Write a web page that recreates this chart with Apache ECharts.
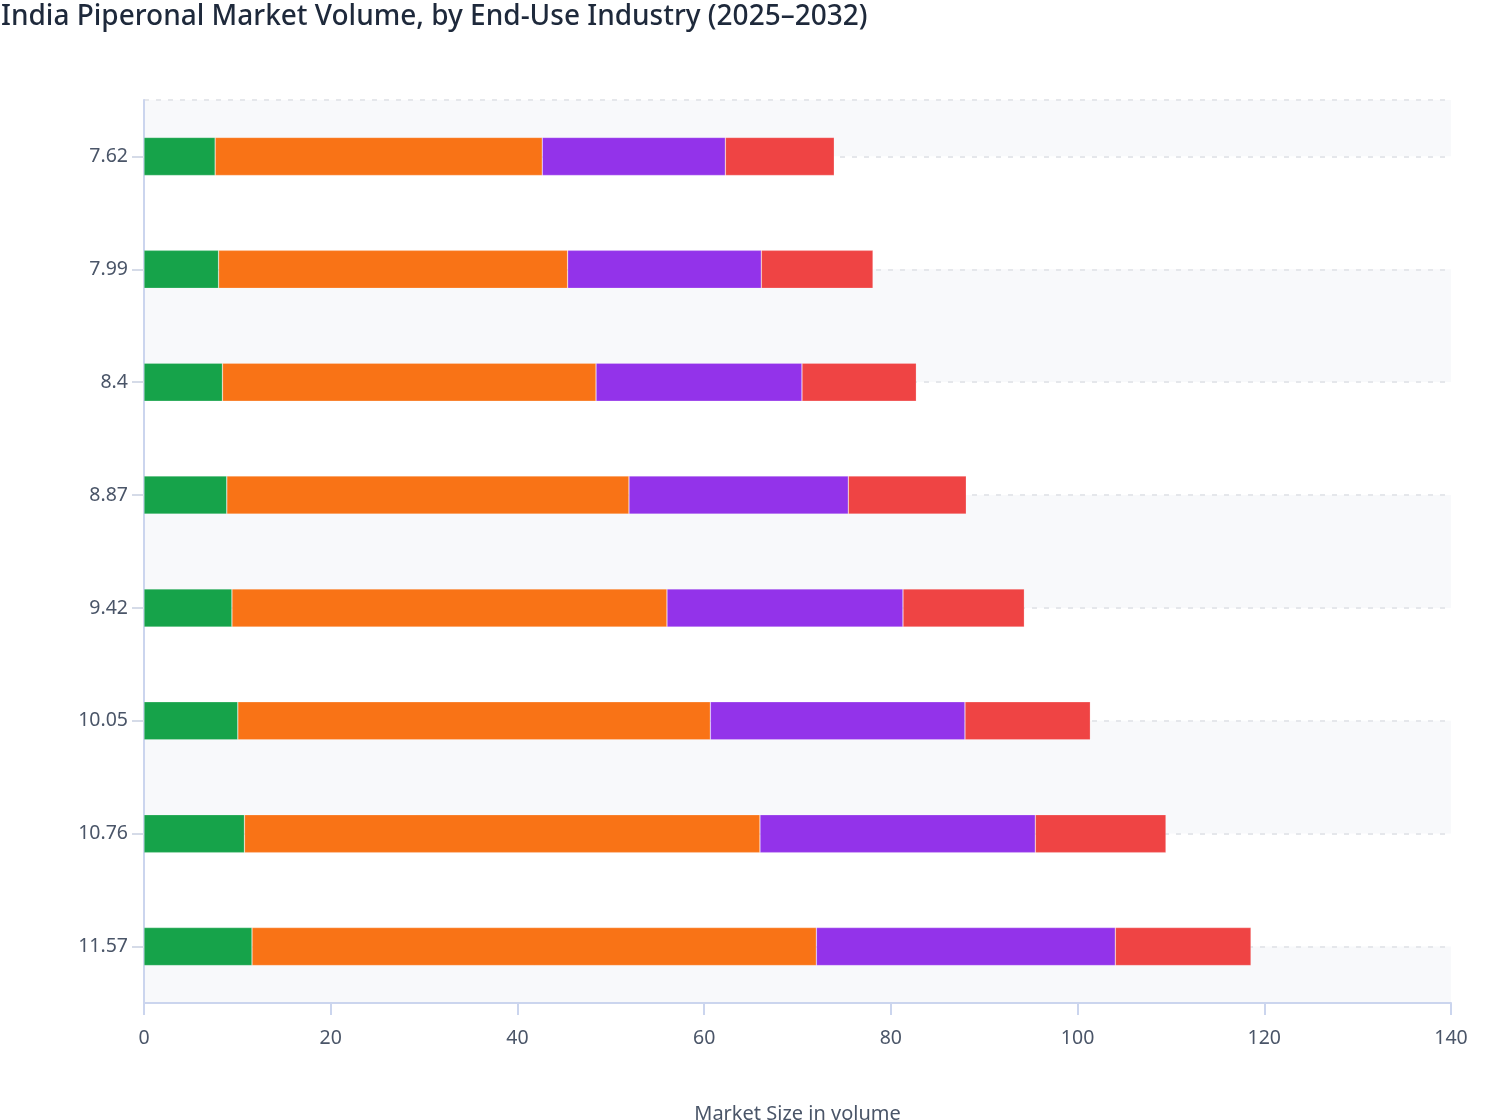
<!DOCTYPE html>
<html>
<head>
<meta charset="utf-8">
<script src="https://cdn.jsdelivr.net/npm/echarts@6/dist/echarts.min.js"></script>
<style>
html,body{margin:0;padding:0;background:#ffffff;}
#chart{width:1508px;height:1120px;}
</style>
</head>
<body>
<div id="chart"></div>
<script>
const titleText = 'India Piperonal Market Volume, by End-Use Industry (2025–2032)';
const categories = ['7.62', '7.99', '8.4', '8.87', '9.42', '10.05', '10.76', '11.57'];
const seriesNames = ['Fragrances', 'Flavors', 'Pharmaceuticals', 'Others'];
const greenValues = [7.62, 7.99, 8.4, 8.87, 9.42, 10.05, 10.76, 11.57];
const orangeValues = [35.04, 37.39, 40.02, 43.08, 46.60, 50.61, 55.22, 60.45];
const purpleValues = [19.61, 20.74, 22.06, 23.49, 25.28, 27.28, 29.49, 32.02];
const redValues = [11.67, 11.97, 12.25, 12.64, 13.00, 13.43, 14.00, 14.54];
const xTicks = [0, 20, 40, 60, 80, 100, 120, 140];
const bandEdges = [0, 0.5, 1.5, 2.5, 3.5, 4.5, 5.5, 6.5, 7.5, 8];

const colors = ['#16a34a', '#f97316', '#9333ea', '#ef4444'];
const font = 'Noto Sans';
const allValues = [greenValues, orangeValues, purpleValues, redValues];

const chart = echarts.init(document.getElementById('chart'), null, {renderer: 'canvas'});
chart.setOption({
  animation: false,
  backgroundColor: '#ffffff',
  textStyle: {fontFamily: font},
  title: {
    text: titleText,
    left: 1,
    top: 3,
    padding: 0,
    textStyle: {fontFamily: font, fontSize: 28, fontWeight: 500, color: '#1e293b'}
  },
  grid: {left: 144, right: 57, top: 100, bottom: 117, containLabel: false, outerBoundsMode: 'none'},
  xAxis: {
    type: 'value',
    min: xTicks[0],
    max: xTicks[xTicks.length - 1],
    interval: xTicks[1] - xTicks[0],
    name: 'Market Size in volume',
    nameLocation: 'middle',
    nameGap: 101,
    nameTextStyle: {fontFamily: font, fontSize: 20, color: '#4a5568'},
    axisLine: {show: true, onZero: false, lineStyle: {color: '#cbd5ee', width: 2}},
    axisTick: {show: true, length: 12, lineStyle: {color: '#cbd5ee', width: 2}},
    axisLabel: {fontFamily: font, fontSize: 19.5, color: '#4a5568', margin: 25},
    splitLine: {show: false}
  },
  yAxis: [
    {
      type: 'category',
      data: categories,
      inverse: true,
      axisLine: {show: true, onZero: false, lineStyle: {color: '#cbd5ee', width: 2}},
      axisTick: {show: true, alignWithLabel: true, length: 12, lineStyle: {color: '#d5dbe8', width: 2}},
      axisLabel: {fontFamily: font, fontSize: 19.5, color: '#4a5568', margin: 16},
      splitLine: {show: false},
      splitArea: {show: false}
    },
    {
      type: 'value',
      min: 0,
      max: 8,
      inverse: true,
      position: 'right',
      axisLine: {show: false, onZero: false},
      axisLabel: {show: false},
      axisTick: {show: false, customValues: bandEdges},
      splitLine: {show: true, lineStyle: {color: '#e5e7eb', width: 2, type: [5, 7]}},
      splitArea: {show: true, areaStyle: {color: ['#f8f9fb', '#ffffff']}}
    }
  ],
  series: seriesNames.map((name, i) => ({
    name: name,
    type: 'bar',
    stack: 'total',
    yAxisIndex: 0,
    barWidth: 38,
    data: allValues[i],
    itemStyle: {color: colors[i], borderColor: 'rgba(255,255,255,0.35)', borderWidth: 0.6},
    emphasis: {disabled: true}
  }))
});
</script>
</body>
</html>
